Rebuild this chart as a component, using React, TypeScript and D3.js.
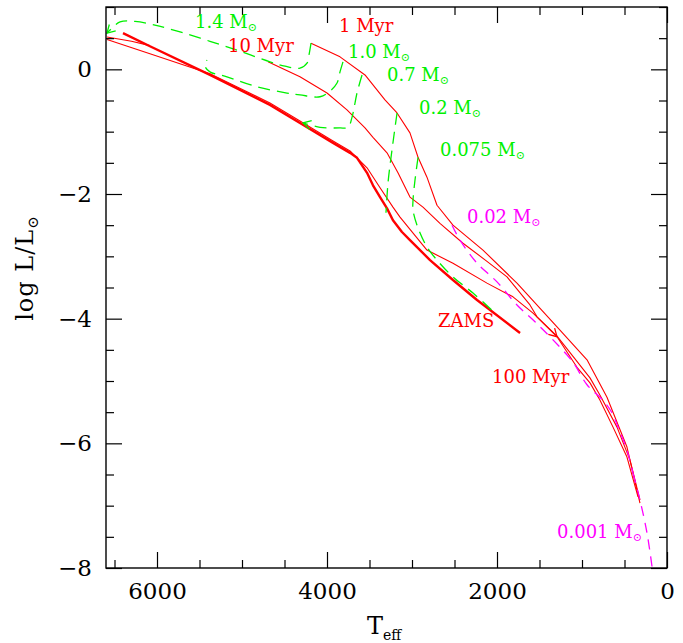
import {default as React, useEffect, useRef} from "react";
import * as d3 from "d3";

// every point is [Teff (K), log L/Lsun]
type Pt = [number, number];

const xMajorTicks = [0, 2000, 4000, 6000];
const yMajorTicks = [-8, -6, -4, -2, 0];

const zams: Pt[] = [
    [6400, 0.58], [6083, 0.37], [5377, -0.09], [4671, -0.57], [4318, -0.86], [3929, -1.18],
    [3729, -1.34], [3647, -1.42], [3529, -1.66], [3459, -1.86], [3376, -2.05], [3294, -2.23],
    [3224, -2.42], [3118, -2.61], [3024, -2.74], [2788, -3.06], [2518, -3.38], [2235, -3.70],
    [1729, -4.23]
];
const zamsHot: Pt[] = [[6588, 0.52], [6300, 0.45], [6083, 0.38]];

const iso1Myr: Pt[] = [
    [4188, 0.42], [3847, 0.20], [3553, -0.09], [3318, -0.49], [3176, -0.70], [3024, -1.02],
    [2929, -1.41], [2824, -1.73], [2706, -2.18], [2518, -2.50], [2165, -2.90], [1765, -3.43],
    [1294, -4.13], [941, -4.66], [706, -5.26], [471, -6.06], [318, -6.96]
];
const iso10Myr: Pt[] = [
    [4694, 0.12], [4318, -0.12], [4000, -0.38], [3765, -0.65], [3553, -0.94], [3459, -1.09],
    [3294, -1.34], [3165, -1.66], [3024, -2.05], [2871, -2.21], [2671, -2.47], [2400, -2.79],
    [2118, -3.08], [1882, -3.33], [1612, -3.78], [1529, -3.97], [1294, -4.28], [906, -4.95],
    [788, -5.23], [588, -5.74], [435, -6.27], [318, -6.91]
];
const iso100Myr: Pt[] = [
    [6588, 0.48], [6083, 0.25], [5377, -0.07], [4671, -0.54], [4318, -0.83], [3929, -1.15],
    [3729, -1.31], [3529, -1.58], [3376, -1.90], [3224, -2.21], [3141, -2.37], [2824, -2.90],
    [2518, -3.11], [2118, -3.43], [1812, -3.65], [1576, -3.91], [1294, -4.29], [1059, -4.78],
    [906, -5.03], [788, -5.31], [635, -5.74], [471, -6.22], [341, -6.86]
];

const track14: Pt[] = [
    [4188, 0.42], [4212, 0.23], [4235, 0.10], [4318, 0.02], [4494, 0.05], [4671, 0.12],
    [5024, 0.29], [5377, 0.45], [5729, 0.60], [6024, 0.71], [6259, 0.77], [6435, 0.76],
    [6530, 0.66], [6588, 0.58]
];
const track10: Pt[] = [
    [3812, 0.12], [3847, -0.04], [3882, -0.22], [3965, -0.35], [4082, -0.44], [4318, -0.41],
    [4471, -0.38], [4824, -0.28], [5177, -0.12], [5377, -0.04], [5435, 0.05], [5412, 0.15]
];
const track07: Pt[] = [
    [3588, -0.09], [3647, -0.38], [3706, -0.77], [3753, -0.93], [3847, -0.94], [4082, -0.93],
    [4282, -0.86]
];
const track02: Pt[] = [[3176, -0.70], [3235, -1.29], [3282, -1.82], [3306, -2.30]];
const track0075: Pt[] = [
    [2929, -1.41], [2965, -1.78], [2988, -2.10], [2988, -2.26], [2941, -2.50], [2824, -2.85],
    [2706, -3.06], [2518, -3.33], [2282, -3.59], [2047, -3.88]
];
const track002: Pt[] = [
    [2529, -2.50], [2435, -2.74], [2235, -3.11], [2000, -3.41], [1765, -3.78], [1553, -4.05],
    [1341, -4.34], [1106, -4.70], [941, -5.06], [753, -5.31], [647, -5.51], [576, -5.74],
    [471, -6.11], [400, -6.48]
];
const track0001: Pt[] = [[400, -6.48], [318, -6.91], [235, -7.44], [176, -7.98]];

// label text, whether it carries "M_sun", anchor point [Teff, log L]
const labelTexts = ["1.4", "1 Myr", "10 Myr", "1.0", "0.7", "0.2", "0.075", "0.02", "ZAMS", "100 Myr", "0.001"];
const labelSun = [true, false, false, true, true, true, true, true, false, false, true];
const labelAt: Pt[] = [
    [5553, 0.66], [3859, 0.60], [5165, 0.28], [3753, 0.18], [3294, -0.19], [2918, -0.72],
    [2671, -1.39], [2353, -2.47], [2694, -4.13], [2059, -5.03], [1294, -7.52]
];

const RED = "#ff0000";
const GREEN = "#00f000";
const MAGENTA = "#ff00ff";
const labelColors = [GREEN, RED, RED, GREEN, GREEN, GREEN, GREEN, MAGENTA, RED, RED, MAGENTA];

const margin = {left: 106, right: 16, top: 7, bottom: 75};
const width = 683;
const height = 643;
const serif = "'DejaVu Serif', serif";

export default function App() {
    const ref = useRef<SVGSVGElement>(null);

    useEffect(() => {
        draw();
    }, []);

    function draw() {
        const svg = d3.select(ref.current);
        svg.selectAll("*").remove();

        const x = d3.scaleLinear().domain([6600, 0]).range([margin.left, width - margin.right]);
        const y = d3.scaleLinear().domain([-8, 1]).range([height - margin.bottom, margin.top]);
        const x0 = x.range()[0], x1 = x.range()[1], y0 = y.range()[0], y1 = y.range()[1];

        svg.append("defs").append("clipPath").attr("id", "plot")
            .append("rect").attr("x", x0).attr("y", y1).attr("width", x1 - x0).attr("height", y0 - y1);

        // isochrones are plain polylines; the looping mass tracks get a spline
        const straight = d3.line<Pt>().x(d => x(d[0])).y(d => y(d[1]));
        const spline = d3.line<Pt>().x(d => x(d[0])).y(d => y(d[1])).curve(d3.curveCatmullRom.alpha(0.5));

        const curves = svg.append("g").attr("clip-path", "url(#plot)").attr("fill", "none");

        function plot(data: Pt[], color: string, w: number, dash: string | null, gen: any) {
            const p = curves.append("path").datum(data)
                .attr("stroke", color).attr("stroke-width", w).attr("d", gen)
                .attr("stroke-linejoin", "round");
            if (dash) p.attr("stroke-dasharray", dash);
        }

        function arrow(data: Pt[], i: number, color: string) {
            const a = [x(data[i - 1][0]), y(data[i - 1][1])];
            const b = [x(data[i][0]), y(data[i][1])];
            const ang = Math.atan2(b[1] - a[1], b[0] - a[0]);
            const len = 9, spread = Math.PI / 6;
            const p1 = [b[0] - len * Math.cos(ang - spread), b[1] - len * Math.sin(ang - spread)];
            const p2 = [b[0] - len * Math.cos(ang + spread), b[1] - len * Math.sin(ang + spread)];
            curves.append("path")
                .attr("d", `M${p1[0]},${p1[1]}L${b[0]},${b[1]}L${p2[0]},${p2[1]}`)
                .attr("stroke", color).attr("stroke-width", 1.3);
        }

        // isochrones
        plot(zamsHot, RED, 1.1, null, straight);
        plot(iso100Myr, RED, 1.1, null, straight);
        plot(iso10Myr, RED, 1.1, null, straight);
        plot(iso1Myr, RED, 1.1, null, straight);
        plot(zams, RED, 2.4, null, straight);
        arrow(iso100Myr, 16, RED);

        // mass tracks
        plot(track14, GREEN, 1.3, "12,7", spline);
        plot(track10, GREEN, 1.3, "12,7", spline);
        plot(track07, GREEN, 1.3, "12,7", spline);
        plot(track02, GREEN, 1.3, "12,7", spline);
        plot(track0075, GREEN, 1.3, "12,7", spline);
        arrow(track14, track14.length - 1, GREEN);
        arrow(track07, track07.length - 1, GREEN);
        plot(track002, MAGENTA, 1.3, "10,7", spline);
        plot(track0001, MAGENTA, 1.3, "10,7", spline);

        // axes: inward ticks on all four sides
        function addAxis(axis: any, transform: string, labelled: boolean) {
            const g = svg.append("g").attr("transform", transform).call(axis);
            g.select(".domain").remove();
            g.selectAll("line").attr("stroke", "#000").attr("stroke-width", 1.2);
            if (labelled) {
                g.selectAll("text").attr("font-family", serif).attr("font-size", 23).attr("fill", "#000");
            }
        }

        const xMinor = d3.range(0, 6600, 500).filter(v => !xMajorTicks.includes(v));
        const yMinor = d3.range(-8, 1.01, 0.5).filter(v => !yMajorTicks.includes(v));
        const none = () => "";

        addAxis(d3.axisBottom(x).tickValues(xMajorTicks).tickSize(-16).tickSizeOuter(0).tickPadding(15)
            .tickFormat(d3.format("d")), `translate(0,${y0})`, true);
        addAxis(d3.axisBottom(x).tickValues(xMinor).tickSize(-8).tickSizeOuter(0).tickFormat(none),
            `translate(0,${y0})`, false);
        addAxis(d3.axisTop(x).tickValues(xMajorTicks).tickSize(-16).tickSizeOuter(0).tickFormat(none),
            `translate(0,${y1})`, false);
        addAxis(d3.axisTop(x).tickValues(xMinor).tickSize(-8).tickSizeOuter(0).tickFormat(none),
            `translate(0,${y1})`, false);
        addAxis(d3.axisLeft(y).tickValues(yMajorTicks).tickSize(-16).tickSizeOuter(0).tickPadding(14)
            .tickFormat(d3.format("d")), `translate(${x0},0)`, true);
        addAxis(d3.axisLeft(y).tickValues(yMinor).tickSize(-8).tickSizeOuter(0).tickFormat(none),
            `translate(${x0},0)`, false);
        addAxis(d3.axisRight(y).tickValues(yMajorTicks).tickSize(-16).tickSizeOuter(0).tickFormat(none),
            `translate(${x1},0)`, false);
        addAxis(d3.axisRight(y).tickValues(yMinor).tickSize(-8).tickSizeOuter(0).tickFormat(none),
            `translate(${x1},0)`, false);

        svg.append("rect")
            .attr("x", x0).attr("y", y1).attr("width", x1 - x0).attr("height", y0 - y1)
            .attr("fill", "none").attr("stroke", "#000").attr("stroke-width", 1.4);

        // in-plot labels
        labelTexts.forEach((t, i) => {
            const txt = svg.append("text")
                .attr("x", x(labelAt[i][0])).attr("y", y(labelAt[i][1]))
                .attr("font-family", serif).attr("font-size", 18).attr("fill", labelColors[i]);
            txt.append("tspan").text(labelSun[i] ? t + " M" : t);
            if (labelSun[i]) {
                txt.append("tspan").attr("font-size", 11).attr("dy", 3).text("\u2299");
            }
        });

        // axis titles
        const xt = svg.append("text").attr("x", 367).attr("y", 634)
            .attr("font-family", serif).attr("font-size", 24).attr("fill", "#000");
        xt.append("tspan").text("T");
        xt.append("tspan").attr("font-size", 14).attr("dy", 6).text("eff");

        const yt = svg.append("text")
            .attr("transform", "translate(33,268) rotate(-90)")
            .attr("text-anchor", "middle")
            .attr("font-family", serif).attr("font-size", 24).attr("fill", "#000")
            .attr("letter-spacing", 1);
        yt.append("tspan").text("log  L/L");
        yt.append("tspan").attr("font-size", 15).attr("dy", 5).text("\u2299");
    }

    return (
        <svg
            width={width}
            height={height}
            style={{position: "absolute", left: 0, top: 0, backgroundColor: "white"}}
            ref={ref}
        />
    );
}
